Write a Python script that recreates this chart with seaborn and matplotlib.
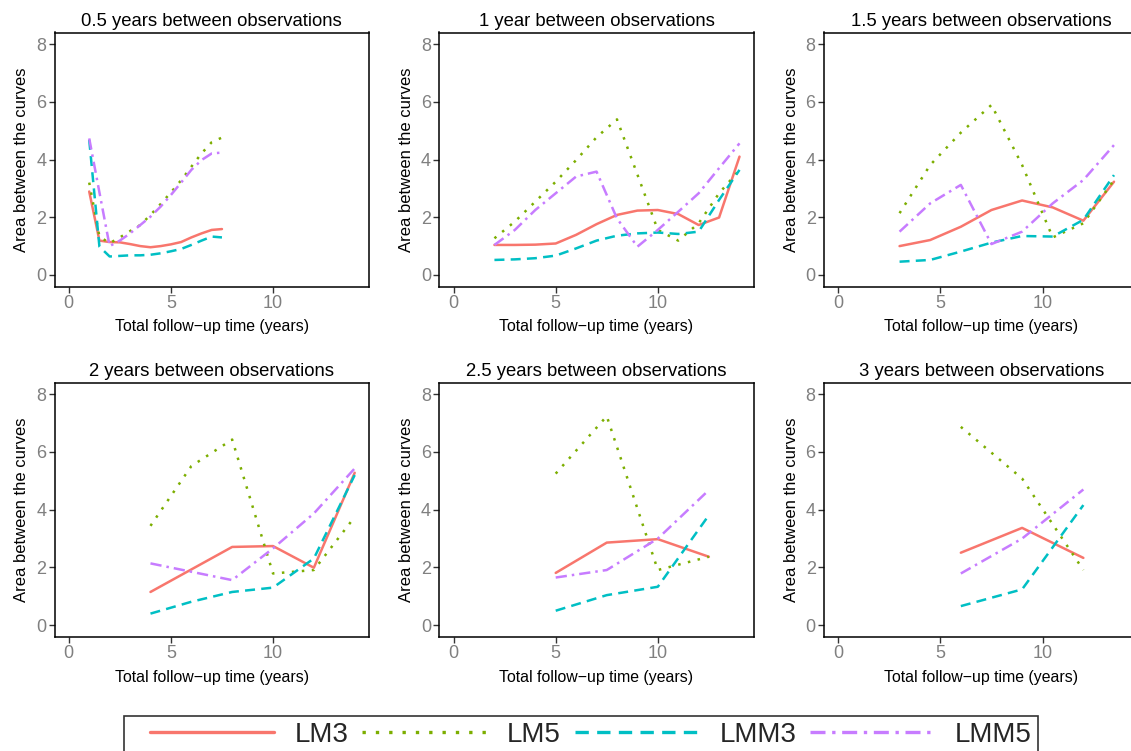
import numpy as np
import pandas as pd
import matplotlib
matplotlib.use("Agg")
import matplotlib.pyplot as plt
from matplotlib.lines import Line2D
from matplotlib.patches import Rectangle
import seaborn as sns

# panel titles / gap between observations
gaps = ["0.5", "1", "1.5", "2", "2.5", "3"]
titles = ["0.5 years between observations", "1 year between observations",
          "1.5 years between observations", "2 years between observations",
          "2.5 years between observations", "3 years between observations"]
models = ["LM3", "LM5", "LMM3", "LMM5"]

# total follow-up times per panel
x_05 = [1, 1.5, 2, 2.5, 3, 3.5, 4, 4.5, 5, 5.5, 6, 6.5, 7, 7.5]
x_1 = [2, 3, 4, 5, 6, 7, 8, 9, 10, 11, 12, 13, 14]
x_15 = [3, 4.5, 6, 7.5, 9, 10.5, 12, 13.5]
x_2 = [4, 6, 8, 10, 12, 14]
x_25 = [5, 7.5, 10, 12.5]
x_3 = [6, 9, 12]

# area between the curves
lm3_05 = [2.89, 1.19, 1.14, 1.13, 1.07, 1.00, 0.96, 1.00, 1.06, 1.14, 1.30, 1.44, 1.56, 1.59]
lm5_05 = [3.20, 1.33, 1.10, 1.30, 1.52, 1.73, 2.08, 2.46, 2.86, 3.28, 3.75, 4.21, 4.60, 4.76]
lmm3_05 = [4.68, 0.98, 0.64, 0.66, 0.68, 0.68, 0.70, 0.75, 0.82, 0.90, 1.04, 1.19, 1.33, 1.30]
lmm5_05 = [4.73, 2.86, 1.00, 1.19, 1.44, 1.73, 2.02, 2.37, 2.77, 3.20, 3.64, 3.98, 4.21, 4.24]

lm3_1 = [1.04, 1.04, 1.05, 1.09, 1.39, 1.76, 2.08, 2.23, 2.25, 2.11, 1.73, 1.99, 4.10]
lm5_1 = [1.27, 1.85, 2.54, 3.23, 3.98, 4.77, 5.39, 3.48, 1.56, 1.19, 1.79, 2.83, 3.64]
lmm3_1 = [0.52, 0.54, 0.58, 0.67, 0.92, 1.19, 1.36, 1.44, 1.47, 1.42, 1.50, 2.60, 3.64]
lmm5_1 = [1.04, 1.56, 2.25, 2.83, 3.41, 3.58, 1.96, 0.98, 1.56, 2.19, 2.83, 3.70, 4.56]

lm3_15 = [1.00, 1.21, 1.67, 2.25, 2.58, 2.34, 1.88, 3.23]
lm5_15 = [2.14, 3.81, 4.93, 5.89, 3.81, 1.30, 1.79, 3.29]
lmm3_15 = [0.46, 0.52, 0.81, 1.12, 1.35, 1.33, 1.91, 3.46]
lmm5_15 = [1.50, 2.48, 3.12, 1.07, 1.50, 2.48, 3.29, 4.50]

lm3_2 = [1.15, 1.93, 2.71, 2.74, 1.99, 5.28]
lm5_2 = [3.44, 5.51, 6.43, 1.79, 1.91, 3.75]
lmm3_2 = [0.40, 0.81, 1.15, 1.30, 2.31, 5.20]
lmm5_2 = [2.14, 1.85, 1.56, 2.66, 3.87, 5.43]

lm3_25 = [1.81, 2.86, 2.98, 2.37]
lm5_25 = [5.25, 7.24, 1.91, 2.37]
lmm3_25 = [0.50, 1.04, 1.33, 3.81]
lmm5_25 = [1.65, 1.91, 3.00, 4.68]

lm3_3 = [2.51, 3.37, 2.33]
lm5_3 = [6.87, 5.08, 1.91]
lmm3_3 = [0.66, 1.24, 4.16]
lmm5_3 = [1.79, 3.00, 4.70]

xs = [x_05, x_1, x_15, x_2, x_25, x_3]
ys = [[lm3_05, lm5_05, lmm3_05, lmm5_05],
      [lm3_1, lm5_1, lmm3_1, lmm5_1],
      [lm3_15, lm5_15, lmm3_15, lmm5_15],
      [lm3_2, lm5_2, lmm3_2, lmm5_2],
      [lm3_25, lm5_25, lmm3_25, lmm5_25],
      [lm3_3, lm5_3, lmm3_3, lmm5_3]]

rows = []
for g, x, series in zip(gaps, xs, ys):
    for m, vals in zip(models, series):
        for xi, yi in zip(x, vals):
            rows.append({"gap": g, "model": m, "time": xi, "abc": yi})
df = pd.DataFrame(rows)

sns.set_theme(style="ticks")
plt.rcParams["font.family"] = ["Liberation Sans", "DejaVu Sans"]

palette = {"LM3": "#F8766D", "LM5": "#7CAE00", "LMM3": "#00BFC4", "LMM5": "#C77CFF"}
dashes = {"LM3": "", "LM5": (1, 3), "LMM3": (4, 2.5), "LMM5": (4.5, 2, 1, 2)}

fig = plt.figure(figsize=(11.31, 7.51), dpi=100)
W, H = 1131, 751
lefts = [54.5, 439.3, 824]
tops = [32.5, 382.7]
pw, ph = 314.5, 254

for i, g in enumerate(gaps):
    r, c = divmod(i, 3)
    ax = fig.add_axes([lefts[c] / W, 1 - (tops[r] + ph) / H, pw / W, ph / H])
    sub = df[df["gap"] == g]
    sns.lineplot(data=sub, x="time", y="abc", hue="model", style="model",
                 palette=palette, dashes=dashes, linewidth=1.8, ax=ax, legend=False)
    ax.set_xlim(-0.7, 14.7)
    ax.set_ylim(-0.4, 8.4)
    ax.set_xticks([0, 5, 10])
    ax.set_yticks([0, 2, 4, 6, 8])
    ax.tick_params(colors="#333333", labelcolor="#808080", labelsize=13,
                   length=4, width=1, pad=2)
    for s in ax.spines.values():
        s.set_color("black")
        s.set_linewidth(1.1)
        s.set_visible(True)
    ax.set_title(titles[i], fontsize=13.3, color="black", pad=4.5)
    ax.set_xlabel("Total follow\u2212up time (years)", fontsize=11.4, color="black", labelpad=5.5)
    ax.set_ylabel("Area between the curves", fontsize=12, color="black", labelpad=5)
    ax.grid(False)

# legend box at the bottom, cut by the figure edge like the original
fig.add_artist(Rectangle((124 / W, -0.02), 914 / W, 1 - 716 / H + 0.02,
                         transform=fig.transFigure, fill=False,
                         edgecolor="#333333", linewidth=1.2))
handles = [Line2D([0], [0], color=palette[m], lw=2.4,
                  dashes=dashes[m] if dashes[m] else (None, None)) for m in models]
leg = fig.legend(handles, models, loc="upper left",
                 bbox_to_anchor=(150 / W, 1 - 722 / H), borderaxespad=0,
                 ncol=4, fontsize=20, frameon=False, handlelength=4.46,
                 handletextpad=0.75, columnspacing=0.5, borderpad=0)

fig.savefig("out.png", dpi=100)
